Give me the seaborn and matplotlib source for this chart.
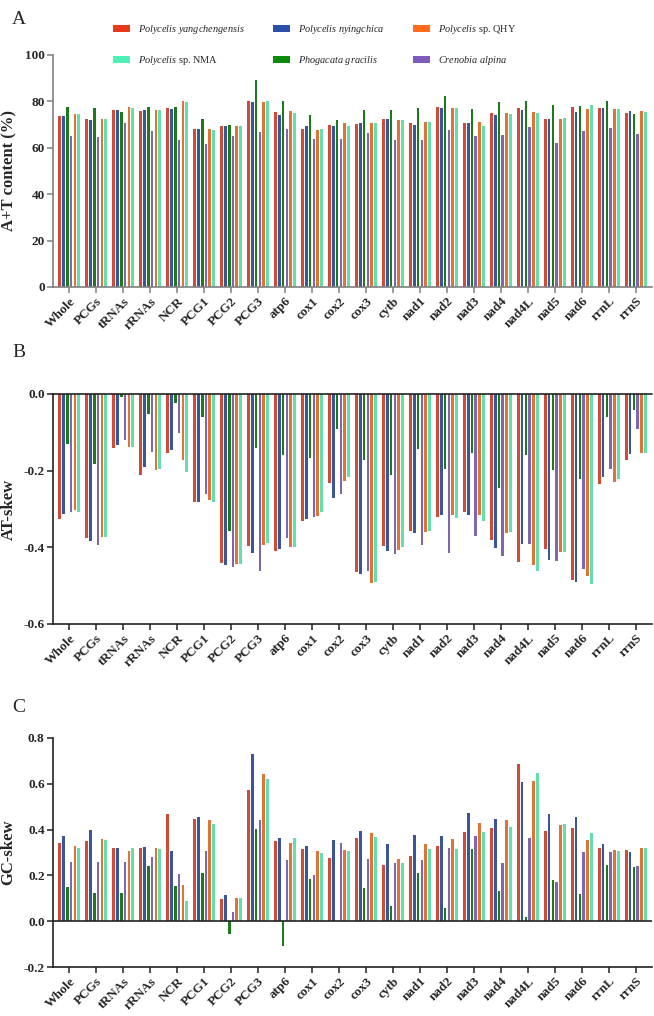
import numpy as np
import pandas as pd
import seaborn as sns
import matplotlib.pyplot as plt
from matplotlib.patches import Patch
from matplotlib.ticker import FormatStrFormatter

genes = ['Whole', 'PCGs', 'tRNAs', 'rRNAs', 'NCR', 'PCG1', 'PCG2', 'PCG3', 'atp6', 'cox1',
         'cox2', 'cox3', 'cytb', 'nad1', 'nad2', 'nad3', 'nad4', 'nad4L', 'nad5', 'nad6',
         'rrnL', 'rrnS']

# bar order inside each group
species = ['yangchengensis', 'nyingchica', 'gracilis', 'alpina', 'QHY', 'NMA']
colors = ['#E8391D', '#2A50A8', '#0B8A0B', '#7F5AB8', '#FF6B1A', '#4EF2B4']
legend_labels = {
    'yangchengensis': r'$\mathit{Polycelis\ yangchengensis}$',
    'nyingchica': r'$\mathit{Polycelis\ nyingchica}$',
    'QHY': r'$\mathit{Polycelis}$ sp. QHY',
    'NMA': r'$\mathit{Polycelis}$ sp. NMA',
    'gracilis': r'$\mathit{Phogacata\ gracilis}$',
    'alpina': r'$\mathit{Crenobia\ alpina}$',
}

# A+T content (%)
at_yang = [73.6, 72.4, 76.4, 75.9, 77.1, 68.0, 69.3, 80.0, 75.4, 68.0, 70.0, 70.3, 72.3, 70.9, 77.6, 70.6, 74.9, 77.1, 72.4, 77.6, 77.0, 74.9]
at_nying = [73.9, 72.1, 76.4, 76.4, 76.9, 68.0, 69.3, 79.7, 74.3, 69.3, 69.4, 70.9, 72.4, 69.9, 77.3, 70.7, 74.3, 76.1, 72.4, 75.6, 77.1, 75.9]
at_grac = [77.4, 77.0, 75.4, 77.7, 77.7, 72.4, 70.0, 89.1, 80.0, 74.0, 71.9, 76.4, 76.1, 77.0, 82.3, 76.6, 79.7, 80.3, 78.4, 78.1, 80.1, 74.6]
at_alp = [65.3, 64.6, 70.9, 67.4, 63.3, 61.7, 65.3, 67.0, 68.1, 63.6, 63.6, 66.4, 63.3, 63.4, 67.6, 65.0, 65.4, 68.9, 62.1, 67.4, 68.4, 66.1]
at_qhy = [74.6, 72.4, 77.7, 76.3, 80.1, 68.0, 69.3, 79.9, 75.7, 67.7, 70.9, 70.9, 72.0, 71.1, 77.0, 71.3, 75.0, 75.6, 72.4, 76.9, 76.7, 76.0]
at_nma = [74.6, 72.4, 77.1, 76.1, 79.7, 67.7, 69.3, 80.1, 74.9, 68.1, 69.6, 70.9, 72.0, 71.1, 77.0, 69.4, 74.6, 75.0, 72.9, 78.4, 76.7, 75.6]

# AT-skew
ats_yang = [-0.325, -0.375, -0.141, -0.210, -0.153, -0.281, -0.442, -0.396, -0.409, -0.332, -0.231, -0.465, -0.396, -0.357, -0.320, -0.308, -0.380, -0.437, -0.404, -0.484, -0.236, -0.173]
ats_nying = [-0.314, -0.384, -0.132, -0.191, -0.145, -0.283, -0.445, -0.416, -0.404, -0.325, -0.270, -0.469, -0.410, -0.363, -0.315, -0.315, -0.403, -0.390, -0.432, -0.491, -0.216, -0.157]
ats_grac = [-0.130, -0.183, -0.007, -0.053, -0.023, -0.061, -0.357, -0.141, -0.158, -0.166, -0.090, -0.173, -0.210, -0.143, -0.195, -0.155, -0.244, -0.160, -0.197, -0.222, -0.059, -0.043]
ats_alp = [-0.309, -0.393, -0.119, -0.150, -0.103, -0.260, -0.450, -0.463, -0.375, -0.320, -0.260, -0.463, -0.418, -0.395, -0.416, -0.371, -0.422, -0.391, -0.435, -0.457, -0.195, -0.091]
ats_qhy = [-0.303, -0.372, -0.137, -0.198, -0.171, -0.277, -0.444, -0.395, -0.399, -0.318, -0.228, -0.492, -0.406, -0.359, -0.316, -0.315, -0.363, -0.445, -0.413, -0.475, -0.229, -0.153]
ats_nma = [-0.309, -0.372, -0.137, -0.196, -0.203, -0.283, -0.443, -0.389, -0.399, -0.307, -0.217, -0.490, -0.398, -0.357, -0.323, -0.330, -0.360, -0.463, -0.413, -0.495, -0.223, -0.154]

# GC-skew
gcs_yang = [0.340, 0.350, 0.320, 0.318, 0.470, 0.445, 0.095, 0.572, 0.349, 0.317, 0.275, 0.364, 0.247, 0.284, 0.330, 0.388, 0.406, 0.685, 0.393, 0.406, 0.320, 0.311]
gcs_nying = [0.370, 0.400, 0.320, 0.323, 0.305, 0.455, 0.116, 0.732, 0.364, 0.327, 0.356, 0.396, 0.339, 0.378, 0.371, 0.473, 0.447, 0.607, 0.470, 0.454, 0.335, 0.303]
gcs_grac = [0.150, 0.125, 0.125, 0.243, 0.153, 0.210, -0.058, 0.404, -0.108, 0.186, 0.0, 0.144, 0.065, 0.209, 0.057, 0.314, 0.132, 0.017, 0.179, 0.119, 0.246, 0.237]
gcs_alp = [0.260, 0.260, 0.260, 0.280, 0.204, 0.305, 0.038, 0.441, 0.266, 0.200, 0.340, 0.273, 0.255, 0.266, 0.321, 0.371, 0.255, 0.362, 0.173, 0.301, 0.304, 0.243]
gcs_qhy = [0.330, 0.360, 0.305, 0.318, 0.156, 0.440, 0.103, 0.641, 0.340, 0.305, 0.311, 0.385, 0.273, 0.336, 0.359, 0.428, 0.441, 0.614, 0.419, 0.356, 0.313, 0.319]
gcs_nma = [0.320, 0.355, 0.320, 0.315, 0.087, 0.426, 0.103, 0.620, 0.364, 0.300, 0.305, 0.369, 0.256, 0.314, 0.314, 0.391, 0.412, 0.647, 0.423, 0.383, 0.305, 0.319]


def long_df(series):
    rows = []
    for sp, vals in zip(species, series):
        for g, v in zip(genes, vals):
            rows.append((g, sp, v))
    return pd.DataFrame(rows, columns=['gene', 'species', 'value'])


dfA = long_df([at_yang, at_nying, at_grac, at_alp, at_qhy, at_nma])
dfB = long_df([ats_yang, ats_nying, ats_grac, ats_alp, ats_qhy, ats_nma])
dfC = long_df([gcs_yang, gcs_nying, gcs_grac, gcs_alp, gcs_qhy, gcs_nma])

sns.set_style('ticks')
plt.rcParams['font.family'] = ['Liberation Serif', 'DejaVu Serif']
plt.rcParams['mathtext.fontset'] = 'custom'
plt.rcParams['mathtext.rm'] = 'Liberation Serif'
plt.rcParams['mathtext.it'] = 'Liberation Serif:italic'
plt.rcParams['axes.unicode_minus'] = False

fig = plt.figure(figsize=(6.54, 10.16), dpi=100)
H = 1016.0
W = 654.0
axA = fig.add_axes([53 / W, 1 - 287 / H, 599 / W, (287 - 55) / H])
axB = fig.add_axes([53 / W, 1 - 624 / H, 599 / W, (624 - 394) / H])
axC = fig.add_axes([53 / W, 1 - 967 / H, 599 / W, (967 - 738) / H])

panels = [
    (axA, dfA, 'A+T content (%)', (0, 100), np.arange(0, 101, 20), '#808080'),
    (axB, dfB, 'AT-skew', (-0.6, 0), np.arange(-0.6, 0.01, 0.2), '#222222'),
    (axC, dfC, 'GC-skew', (-0.2, 0.8), np.arange(-0.2, 0.81, 0.2), '#222222'),
]

for ax, df, ylab, ylim, yt, sc in panels:
    sns.barplot(data=df, x='gene', y='value', hue='species', order=genes,
                hue_order=species, palette=colors, width=0.85, gap=0.3,
                linewidth=0, errorbar=None, legend=False, ax=ax)
    ax.set_xlim(-0.6, 21.6)
    ax.set_ylim(*ylim)
    ax.set_yticks(yt)
    ax.set_xlabel('')
    ax.set_ylabel(ylab, fontsize=12, fontweight='bold', labelpad=5)
    ax.tick_params(axis='both', length=4, width=1.1, color=sc, labelsize=9.5, pad=2)
    for lab in ax.get_xticklabels():
        lab.set_rotation(45)
        lab.set_ha('right')
        lab.set_rotation_mode('anchor')
        lab.set_fontweight('bold')
    for lab in ax.get_yticklabels():
        lab.set_fontweight('bold')
    sns.despine(ax=ax)
    for s in ['left', 'bottom']:
        ax.spines[s].set_color(sc)
        ax.spines[s].set_linewidth(1.2)

axB.yaxis.set_major_formatter(FormatStrFormatter('%.1f'))
axC.yaxis.set_major_formatter(FormatStrFormatter('%.1f'))
axB.axhline(0, color='#222222', lw=1.2, clip_on=False)
axC.axhline(0, color='#222222', lw=1.2)

# legend: rows yang / nying / QHY, then NMA / gracilis / alpina (column-major fill)
leg_order = ['yangchengensis', 'NMA', 'nyingchica', 'gracilis', 'QHY', 'alpina']
handles = [Patch(facecolor=colors[species.index(s)], edgecolor='none') for s in leg_order]
fig.legend(handles, [legend_labels[s] for s in leg_order], ncol=3, loc='upper left',
           bbox_to_anchor=(104 / W, 1 - 14 / H), frameon=False, fontsize=7.4,
           handlelength=1.6, handleheight=0.7, labelspacing=1.75, columnspacing=2.8,
           handletextpad=0.8)

fig.text(12 / W, 1 - 24 / H, 'A', fontsize=14)
fig.text(12 / W, 1 - 357 / H, 'B', fontsize=14)
fig.text(12 / W, 1 - 712 / H, 'C', fontsize=14)

fig.savefig('out.png', dpi=100)
